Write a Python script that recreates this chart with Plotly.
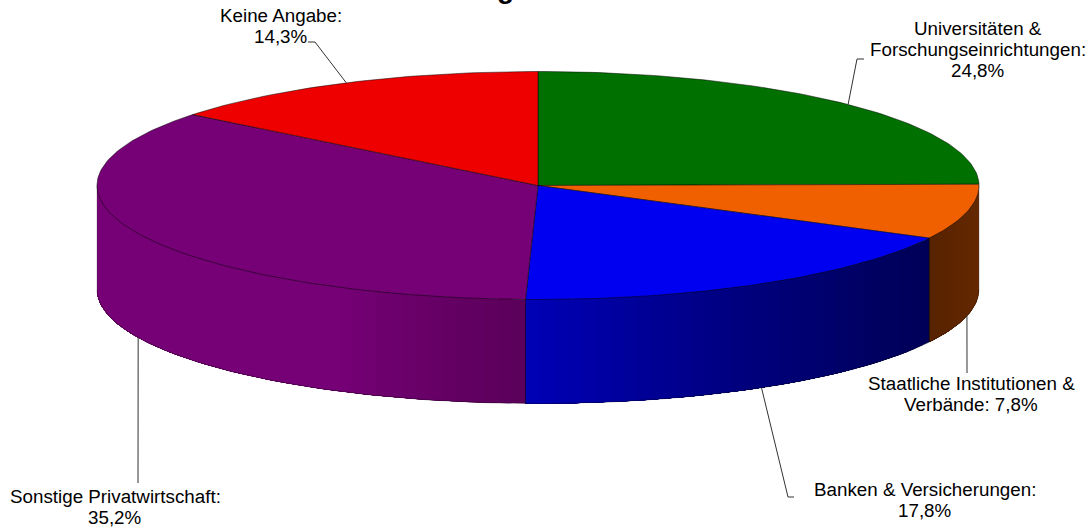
import math
import plotly.graph_objects as go

# Slice data, clockwise from twelve o'clock
label_lines = [["Universitäten &", "Forschungseinrichtungen:", "24,8%"],
               ["Staatliche Institutionen &", "Verbände: 7,8%"],
               ["Banken & Versicherungen:", "17,8%"],
               ["Sonstige Privatwirtschaft:", "35,2%"],
               ["Keine Angabe:", "14,3%"]]
shares = [24.8, 7.8, 17.8, 35.2, 14.3]
slice_colors = [(0, 112, 0), (240, 96, 0), (0, 0, 240), (118, 0, 118), (238, 0, 0)]

# Rim lighting: horizontal position on the disc (-1..1) against brightness
rim_light_pos = [-1.0, -0.45, -0.3, -0.025, 0.4, 0.89, 1.0]
rim_light_val = [1.0, 1.0, 0.9, 0.76, 0.55, 0.36, 0.42]

WIDTH, HEIGHT = 1091, 528
CX, CY, RX, RY, DEPTH = 538, 185.5, 441, 114, 104
FONT = "Liberation Sans, Arial, sans-serif"
LINE_STEP = 21


def rim_point(turn, drop=0.0):
    """Point on the disc edge at a fraction of a full clockwise turn."""
    a = 2 * math.pi * turn
    return CX + RX * math.sin(a), CY - RY * math.cos(a) + drop


def rim_path(t0, t1, drop=0.0):
    n = max(2, int(abs(t1 - t0) * 360))
    return [rim_point(t0 + (t1 - t0) * i / n, drop) for i in range(n + 1)]


def brightness(x):
    u = (x - CX) / RX
    for i in range(len(rim_light_pos) - 1):
        a, b = rim_light_pos[i], rim_light_pos[i + 1]
        if u <= b:
            return rim_light_val[i] + (rim_light_val[i + 1] - rim_light_val[i]) * (u - a) / (b - a)
    return rim_light_val[-1]


def rgb(c, k=1.0):
    return "rgb(%d,%d,%d)" % tuple(round(v * k) for v in c)


def polygon(points, fill, line=None, width=0.0):
    xs, ys = zip(*points)
    return go.Scatter(x=list(xs) + [xs[0]], y=list(ys) + [ys[0]], mode="lines", fill="toself",
                      fillcolor=fill, line=dict(color=line or fill, width=width),
                      hoverinfo="skip", showlegend=False)


def polyline(points, color="#000000", width=1.0):
    xs, ys = zip(*points)
    return go.Scatter(x=list(xs), y=list(ys), mode="lines", line=dict(color=color, width=width),
                      hoverinfo="skip", showlegend=False)


total = sum(shares)
edges = [0.0]
for s in shares:
    edges.append(edges[-1] + s / total)

fig = go.Figure()

# Visible rim: each band repaints from its start to the slice end, so no gaps show between bands
for i, color in enumerate(slice_colors):
    t0, t1 = max(edges[i], 0.25), min(edges[i + 1], 0.75)
    if t1 <= t0:
        continue
    steps = max(2, int((t1 - t0) * 200))
    for s in range(steps):
        a = t0 + (t1 - t0) * s / steps
        b = t0 + (t1 - t0) * (s + 1) / steps
        shade = brightness((rim_point(a)[0] + rim_point(b)[0]) / 2)
        fig.add_trace(polygon(rim_path(a, t1) + rim_path(t1, a, DEPTH), rgb(color, shade)))
    if edges[i] > 0.25:
        x, y = rim_point(edges[i])
        fig.add_trace(polyline([(x, y), (x, y + DEPTH)], "rgba(0,0,0,0.55)", 0.8))

# Top faces
for i, color in enumerate(slice_colors):
    fig.add_trace(polygon([(CX, CY)] + rim_path(edges[i], edges[i + 1]), rgb(color),
                          "rgba(0,0,0,0.7)", 0.7))

# Outer silhouette of the rim
fig.add_trace(polyline(rim_path(0.25, 0.75, DEPTH), "rgba(0,0,0,0.5)", 0.6))
for t in (0.25, 0.75):
    x, y = rim_point(t)
    fig.add_trace(polyline([(x, y), (x, y + DEPTH)], "rgba(60,60,60,0.5)", 0.6))

# Leader lines start at each slice's mid-angle and run out to the label
leader_bends = [(857, 59, 864, 59), (967, 373, None, None), (788, 497, 794, 497),
                (138, 483, None, None), (315, 42, 308, 42)]
leader_drop = [0, DEPTH, DEPTH, DEPTH, 0]
for i, bend in enumerate(leader_bends):
    start = rim_point((edges[i] + edges[i + 1]) / 2, leader_drop[i])
    pts = [start, (bend[0], bend[1])]
    if bend[2] is not None:
        pts.append((bend[2], bend[3]))
    fig.add_trace(polyline(pts, "#333333", 1.0))

# Slice labels, one annotation per line for a tight line pitch
label_anchors = [(978, 28), (971, 383), (924.5, 489), (115, 496), (281, 15)]
for lines, (x, y) in zip(label_lines, label_anchors):
    for n, line in enumerate(lines):
        fig.add_annotation(x=x, y=y + n * LINE_STEP, text=line, showarrow=False,
                           xanchor="center", yanchor="middle",
                           font=dict(family=FONT, size=18.8, color="#000000"))

# Heading, running off the top edge of the page
fig.add_annotation(x=505, y=3, text="<b>g</b>", showarrow=False, xanchor="center", yanchor="bottom",
                   yshift=-3, font=dict(family=FONT, size=28, color="#000000"))

fig.update_layout(width=WIDTH, height=HEIGHT, margin=dict(l=0, r=0, t=0, b=0),
                  paper_bgcolor="#ffffff", plot_bgcolor="#ffffff", showlegend=False,
                  xaxis=dict(range=[0, WIDTH], visible=False, fixedrange=True),
                  yaxis=dict(range=[HEIGHT, 0], visible=False, fixedrange=True))
fig.write_html("out.html", config={"displayModeBar": False})
